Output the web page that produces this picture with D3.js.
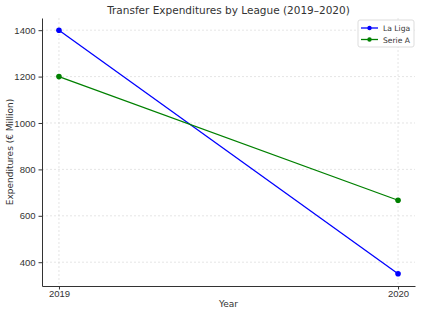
<!DOCTYPE html>
<html>
<head>
<meta charset="utf-8">
<script src="https://cdn.jsdelivr.net/npm/d3@7"></script>
<style>
  body { margin: 0; background: #fff; }
  svg { font-family: "DejaVu Sans", sans-serif; }
</style>
</head>
<body>
<div class="canvas"></div>
<script>
// chart data
const years = [2019, 2020];
const laLiga = [1400, 350];
const serieA = [1200, 667];
const yTicks = [400, 600, 800, 1000, 1200, 1400];

const margin = { top: 18, right: 6, bottom: 29, left: 42 };
const width = 421, height = 315;
const graphWidth = width - margin.left - margin.right;
const graphHeight = height - margin.top - margin.bottom;

const svg = d3.select('.canvas')
    .append('svg')
    .attr('width', width)
    .attr('height', height);

const graph = svg.append('g')
    .attr('transform', `translate(${margin.left}, ${margin.top})`);

// matplotlib-style 5% padding
const x = d3.scaleLinear().domain([2019 - 0.05, 2020 + 0.05]).range([0, graphWidth]);
const yMin = 350, yMax = 1400, pad = (yMax - yMin) * 0.05;
const y = d3.scaleLinear().domain([yMin - pad, yMax + pad]).range([graphHeight, 0]);

// grid
graph.append('g')
    .selectAll('line.hgrid')
    .data(yTicks)
    .enter().append('line')
    .attr('x1', 0).attr('x2', graphWidth)
    .attr('y1', d => y(d)).attr('y2', d => y(d))
    .attr('stroke', '#d4d4d4').attr('stroke-width', 0.6)
    .attr('stroke-dasharray', '2,2');

graph.append('g')
    .selectAll('line.vgrid')
    .data(years)
    .enter().append('line')
    .attr('y1', 0).attr('y2', graphHeight)
    .attr('x1', d => x(d)).attr('x2', d => x(d))
    .attr('stroke', '#d4d4d4').attr('stroke-width', 0.6)
    .attr('stroke-dasharray', '2,2');

// axes
const xAxis = d3.axisBottom(x).tickValues(years).tickFormat(d3.format('d')).tickSize(3.5).tickSizeOuter(0);
const yAxis = d3.axisLeft(y).tickValues(yTicks).tickFormat(d3.format('d')).tickSize(3.5).tickSizeOuter(0);

const xAxisGroup = graph.append('g')
    .attr('transform', `translate(0, ${graphHeight})`)
    .call(xAxis);
const yAxisGroup = graph.append('g').call(yAxis);

[xAxisGroup, yAxisGroup].forEach(g => {
    g.select('.domain').attr('stroke', '#333').attr('stroke-width', 1);
    g.selectAll('.tick line').attr('stroke', '#333');
    g.selectAll('text').attr('fill', '#333').style('font-size', '9.5px');
});
xAxisGroup.selectAll('text').attr('dy', '0.47em');

// lines
const series = [
    { name: 'La Liga', values: laLiga, color: '#0000ff' },
    { name: 'Serie A', values: serieA, color: '#008000' }
];

const line = d3.line()
    .x((d, i) => x(years[i]))
    .y(d => y(d));

series.forEach(s => {
    graph.append('path')
        .datum(s.values)
        .attr('d', line)
        .attr('fill', 'none')
        .attr('stroke', s.color)
        .attr('stroke-width', 1.3);
    graph.selectAll(null)
        .data(s.values)
        .enter().append('circle')
        .attr('cx', (d, i) => x(years[i]))
        .attr('cy', d => y(d))
        .attr('r', 2.8)
        .attr('fill', s.color);
});

// title and axis labels
svg.append('text')
    .attr('x', margin.left + graphWidth / 2)
    .attr('y', 14)
    .attr('text-anchor', 'middle')
    .attr('fill', '#333')
    .style('font-size', '10.5px')
    .text('Transfer Expenditures by League (2019–2020)');

svg.append('text')
    .attr('x', margin.left + graphWidth / 2)
    .attr('y', 307)
    .attr('text-anchor', 'middle')
    .attr('fill', '#333')
    .style('font-size', '9px')
    .text('Year');

svg.append('text')
    .attr('transform', `translate(13, ${margin.top + graphHeight / 2}) rotate(-90)`)
    .attr('text-anchor', 'middle')
    .attr('fill', '#333')
    .style('font-size', '9px')
    .text('Expenditures (€ Million)');

// legend
const legend = svg.append('g').attr('transform', 'translate(358, 20)');
legend.append('rect')
    .attr('width', 56).attr('height', 27)
    .attr('rx', 2)
    .attr('fill', '#fff').attr('fill-opacity', 0.8)
    .attr('stroke', '#ddd');
series.forEach((s, i) => {
    const ly = 8 + i * 11.5;
    legend.append('line')
        .attr('x1', 3).attr('x2', 20)
        .attr('y1', ly).attr('y2', ly)
        .attr('stroke', s.color).attr('stroke-width', 1.3);
    legend.append('circle')
        .attr('cx', 11.5).attr('cy', ly).attr('r', 2.2)
        .attr('fill', s.color);
    legend.append('text')
        .attr('x', 25).attr('y', ly + 3)
        .attr('fill', '#333')
        .style('font-size', '7.6px')
        .text(s.name);
});
</script>
</body>
</html>
